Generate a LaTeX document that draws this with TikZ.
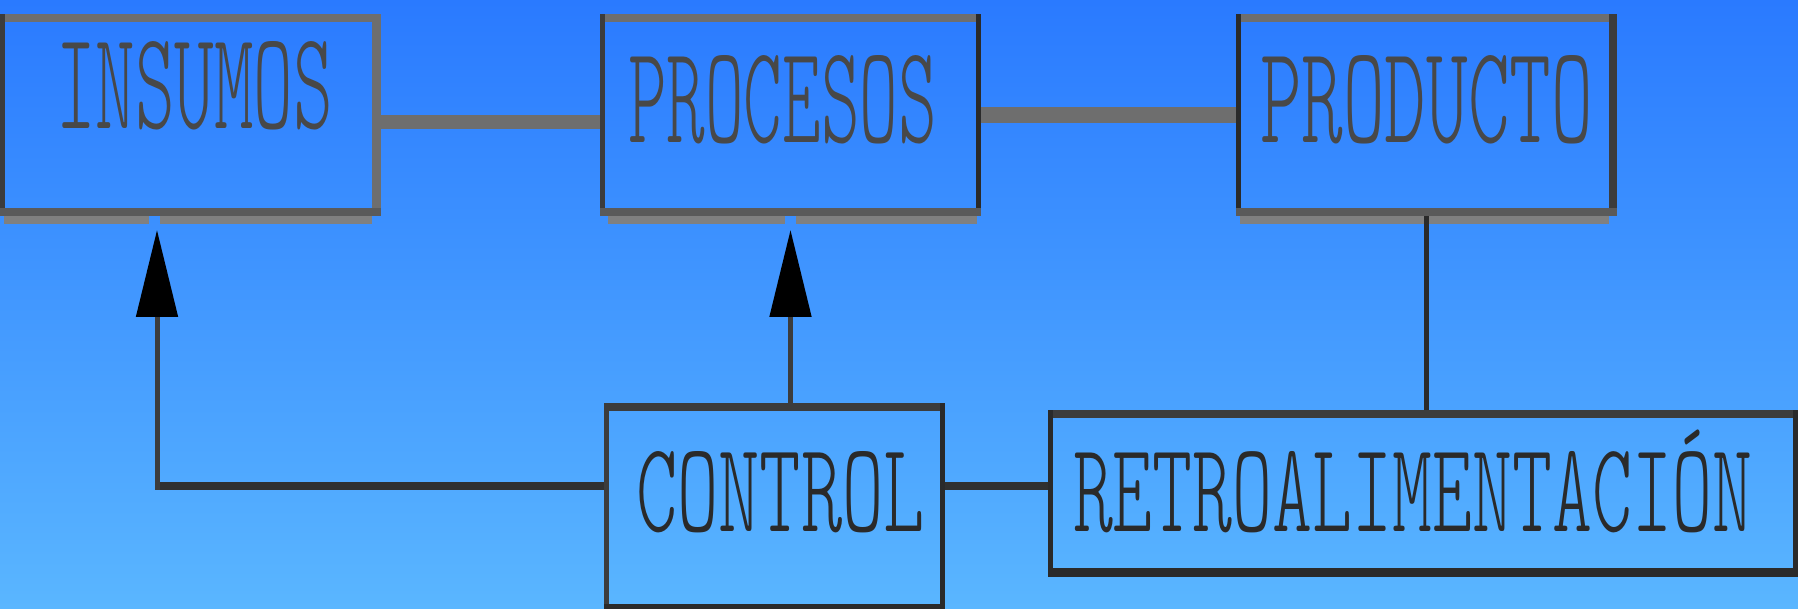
\documentclass[tikz,border=0pt]{standalone}
\usepackage{fontspec}
\usepackage{graphicx}
\newfontfamily\lmlight{lmmonolt10-regular.otf}
\usetikzlibrary{arrows.meta}
\definecolor{bgtop}{HTML}{2A7AFF}
\definecolor{bgbot}{HTML}{5AB6FF}
\definecolor{gA}{HTML}{6E6E6E}
\definecolor{gB}{HTML}{5A5A5A}
\definecolor{gC}{HTML}{808080}
\definecolor{dA}{HTML}{3C3C3C}
\definecolor{dB}{HTML}{2A2A2A}
\definecolor{txtTop}{HTML}{484848}
\definecolor{txtBot}{HTML}{2A2A2A}
\tikzset{
  ph/.style={rectangle, draw=none, fill=none, inner sep=0pt, outer sep=0pt},
  lbl/.style={anchor=south west, inner sep=0pt, outer sep=0pt, font=\lmlight},
  thickbar/.style={draw=gA, line cap=butt},
  thinline/.style={draw=dA, line width=5pt, line cap=butt},
  hline/.style={draw=dA!80!black, line width=7.5pt, line cap=butt},
  bigtip/.style={-{Triangle[length=87pt,width=41pt,color=black]}}
}
\begin{document}
\begin{tikzpicture}[x=1pt,y=-1pt]
\useasboundingbox (0,0) rectangle (1798,609);
\shade[top color=bgtop, bottom color=bgbot] (0,0) rectangle (1798,609);

% placeholder nodes (box extents)
\node[ph, minimum width=381pt, minimum height=210pt] (ins) at (190.5,119) {};
\node[ph, minimum width=381pt, minimum height=210pt] (pro) at (790.5,119) {};
\node[ph, minimum width=381pt, minimum height=210pt] (prd) at (1426.5,119) {};
\node[ph, minimum width=341pt, minimum height=206pt] (con) at (774.5,506) {};
\node[ph, minimum width=750pt, minimum height=167pt] (ret) at (1423,493.5) {};

% INSUMOS borders
\fill[gA] (0,14) rectangle (381,22);
\fill[dA] (0,14) rectangle (5,216);
\fill[gA] (372,14) rectangle (381,216);
\fill[gB] (0,208) rectangle (381,216);
\fill[gC] (4,216) rectangle (149,224);
\fill[gC] (160,216) rectangle (372,224);
% PROCESOS borders
\fill[gA] (600,14) rectangle (981,22);
\fill[dA] (600,14) rectangle (605,216);
\fill[dB] (976,14) rectangle (981,216);
\fill[gB] (600,208) rectangle (981,216);
\fill[gC] (608,216) rectangle (785,224);
\fill[gC] (796,216) rectangle (977,224);
% PRODUCTO borders
\fill[gA] (1236,14) rectangle (1617,22);
\fill[dB] (1236,14) rectangle (1241,216);
\fill[dA] (1609,14) rectangle (1617,216);
\fill[gB] (1236,208) rectangle (1617,216);
\fill[gC] (1240,216) rectangle (1609,224);
% CONTROL borders
\fill[dA] (604,403) rectangle (945,411);
\fill[dA] (604,403) rectangle (609,609);
\fill[dB] (940,403) rectangle (945,609);
\fill[dB] (604,604) rectangle (945,609);
% RETROALIMENTACION borders
\fill[dA] (1048,410) rectangle (1798,418);
\fill[dB] (1048,410) rectangle (1053,577);
\fill[dB] (1793,410) rectangle (1798,577);
\fill[dB] (1048,568) rectangle (1798,577);

% connectors
\draw[thickbar, line width=14pt] ([yshift=-3pt]ins.east) -- ([yshift=-3pt]pro.west);
\draw[thickbar, line width=16pt] ([yshift=4pt]pro.east) -- ([yshift=4pt]prd.west);
\draw[thinline, draw=dB] ([yshift=8pt]prd.south) -- (prd.south |- ret.north);
\draw[hline] ([yshift=20pt]con.east) -- ([yshift=20pt]con.east -| ret.west);
\coordinate (bend) at (157,486);
\draw[hline] ([yshift=20pt]con.west) -- ([xshift=-2.5pt]bend);
\draw[thinline, bigtip] ([yshift=-3.5pt]bend) -- ([yshift=-6pt]ins.south -| bend);
\draw[thinline, bigtip] (con.north -| pro.south) -- ([yshift=-6pt]pro.south);

% labels
\node[lbl, text=txtTop] (insT) at (56,130) {\resizebox{277pt}{87pt}{INSUMOS}};
\node[lbl, text=txtTop] (proT) at (628,144) {\resizebox{309pt}{87pt}{PROCESOS}};
\node[lbl, text=txtTop] (prdT) at (1260,144) {\resizebox{333pt}{87pt}{PRODUCTO}};
\node[lbl, text=txtBot] (conT) at (636,533) {\resizebox{289pt}{80pt}{CONTROL}};
\node[lbl, text=txtBot] (retT) at (1073,533) {\resizebox{679pt}{80pt}{RETROALIMENTACI\smash{Ó}N}};
\end{tikzpicture}
\end{document}
